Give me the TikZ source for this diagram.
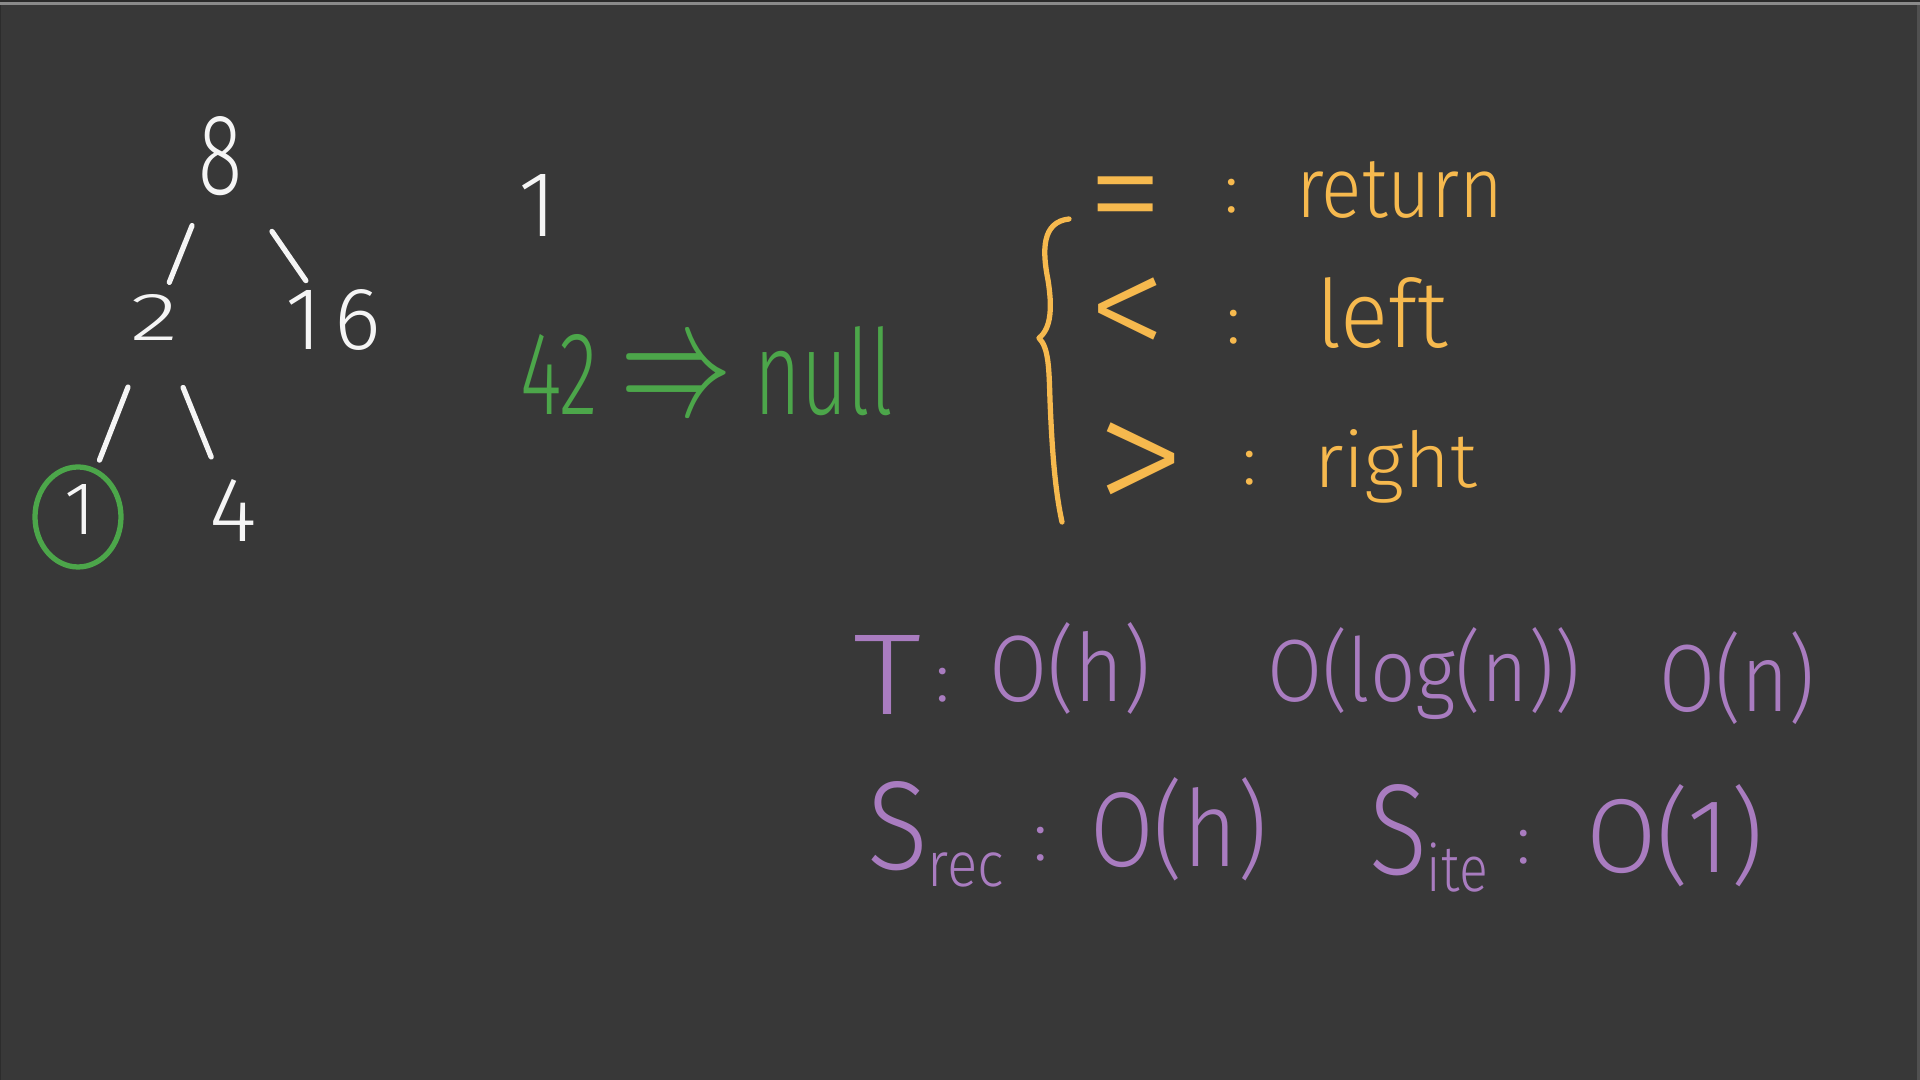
\documentclass[tikz,border=0pt]{standalone}
\usepackage{fontspec}
\setmainfont{Fira Sans Light}
\usepackage{graphicx}
\usetikzlibrary{calc}
\definecolor{bg}{HTML}{383838}
\definecolor{topdark}{HTML}{2A2A2A}
\definecolor{topbar}{HTML}{8A8A8A}
\definecolor{edgeR}{HTML}{505050}
\definecolor{edgeL}{HTML}{2C2C2C}
\definecolor{chalk}{HTML}{F5F5F5}
\definecolor{hgreen}{HTML}{4CA64A}
\definecolor{horange}{HTML}{F6B94E}
\definecolor{hpurple}{HTML}{A97CC0}
\newlength\pxu \setlength\pxu{0.01cm}
\newcommand\hwbox[3]{\resizebox{#1\pxu}{#2\pxu}{#3}}
\newcommand\hwwide[2]{\resizebox{#1\pxu}{!}{#2}}
\newcommand\hwtall[2]{\resizebox{!}{#1\pxu}{#2}}
\begin{document}
\begin{tikzpicture}[x=0.01cm,y=-0.01cm,
  hw/.style={inner sep=0pt, outer sep=0pt},
  word/.style={hw, anchor=base west},
  sym/.style={hw, anchor=base, font=\fontsize{44}{44}\selectfont},
  colon/.style={hw, anchor=base, font=\fontsize{20}{20}\selectfont},
  stroke/.style={line width=1.5pt, line cap=round, line join=round},
  edge/.style={stroke, draw=chalk}]
\fill[bg] (0,0) rectangle (1920,1080);
\useasboundingbox (0,0) rectangle (1920,1080);
\fill[edgeL] (0,0) rectangle (1.5,1080);
\fill[edgeR] (1917,0) rectangle (1920,1080);
\fill[topdark] (0,0) rectangle (1920,2);
\fill[topbar] (0,2) rectangle (1920,5);

% tree
\node[hw, text=chalk] (n8) at (220,156) {\hwbox{44}{78}{8}};
\node[hw, text=chalk] (n2) at (155,318) {\hwbox{48}{46}{2}};
\node[hw, text=chalk] (n16) at (333,320) {\hwtall{60}{1\hspace{0.14em}6}};
\node[hw, text=chalk] (n1) at (80,510) {\hwtall{50}{1}};
\node[hw, text=chalk] (n4) at (233,511) {\hwtall{62}{4}};
\draw[edge] ($(n8)!0.43!(n2)$) -- ($(n8)!0.78!(n2)$);
\draw[edge] ($(n8)!0.46!(n16)$) -- ($(n8)!0.76!(n16)$);
\draw[edge] ($(n2)!0.36!(n1)$) -- ($(n2)!0.74!(n1)$);
\draw[edge] ($(n2)!0.36!(n4)$) -- ($(n2)!0.72!(n4)$);
\draw[stroke, hgreen] ($(n1.center)+(-2,7)$) ellipse [x radius=43, y radius=50];

% middle
\node[hw, text=chalk] (m1) at (538,206) {\hwtall{62}{1}};
\node[word, text=hgreen] (gnull) at (520,415) {\hwbox{373}{88}{42 \scalebox{1.4}{$\Rightarrow$} null}};

% orange cases
\draw[stroke, horange] (1069,219) .. controls (1042,222) and (1042,250) .. (1048,280)
  .. controls (1052,305) and (1052,328) .. (1039,338)
  .. controls (1049,348) and (1049,370) .. (1050,400)
  .. controls (1052,450) and (1055,490) .. (1062,522);
\node[sym, text=horange] (seq) at (1126,246) {\smash{=}};
\node[colon, text=horange] (c1) at (1232,213) {:};
\node[word, text=horange] (wret) at (1296,218) {\hwbox{207}{56}{return}};
\node[sym, text=horange, font=\fontsize{45}{45}\selectfont] (slt) at (1128,362) {\smash{<}};
\node[colon, text=horange] (c2) at (1234,344) {:};
\node[word, text=horange] (wleft) at (1316,348) {\hwbox{132}{70}{left}};
\node[sym, text=horange, font=\fontsize{52}{52}\selectfont] (sgt) at (1141,520) {\smash{>}};
\node[colon, text=horange] (c3) at (1250,485) {:};
\node[word, text=horange] (wright) at (1314,488) {\hwbox{163}{58}{right}};

% purple complexity
\node[word, text=hpurple] (pT) at (853,715) {\hwbox{68}{79}{T}};
\node[colon, text=hpurple] (pc1) at (943,702) {:};
\node[word, text=hpurple] (p1) at (989,702) {\hwbox{162}{79}{O(h)}};
\node[word, text=hpurple] (p2) at (1267,702) {\hwbox{313}{74}{O(log(n))}};
\node[word, text=hpurple] (p3) at (1659,712) {\hwbox{156}{80}{O(n)}};
\node[word, text=hpurple] (p4) at (867,870) {\hwbox{137}{88}{S\raisebox{-1.3pt}{\fontsize{5}{5}\selectfont rec}}};
\node[colon, text=hpurple] (pc2) at (1041,861) {:};
\node[word, text=hpurple] (p5) at (1090,867) {\hwbox{177}{89}{O(h)}};
\node[word, text=hpurple] (p6) at (1369,875) {\hwbox{119}{90}{S\raisebox{-1.3pt}{\fontsize{5}{5}\selectfont ite}}};
\node[colon, text=hpurple] (pc3) at (1524,864) {:};
\node[word, text=hpurple] (p7) at (1586,873) {\hwbox{177}{88}{O(1)}};
\end{tikzpicture}
\end{document}
